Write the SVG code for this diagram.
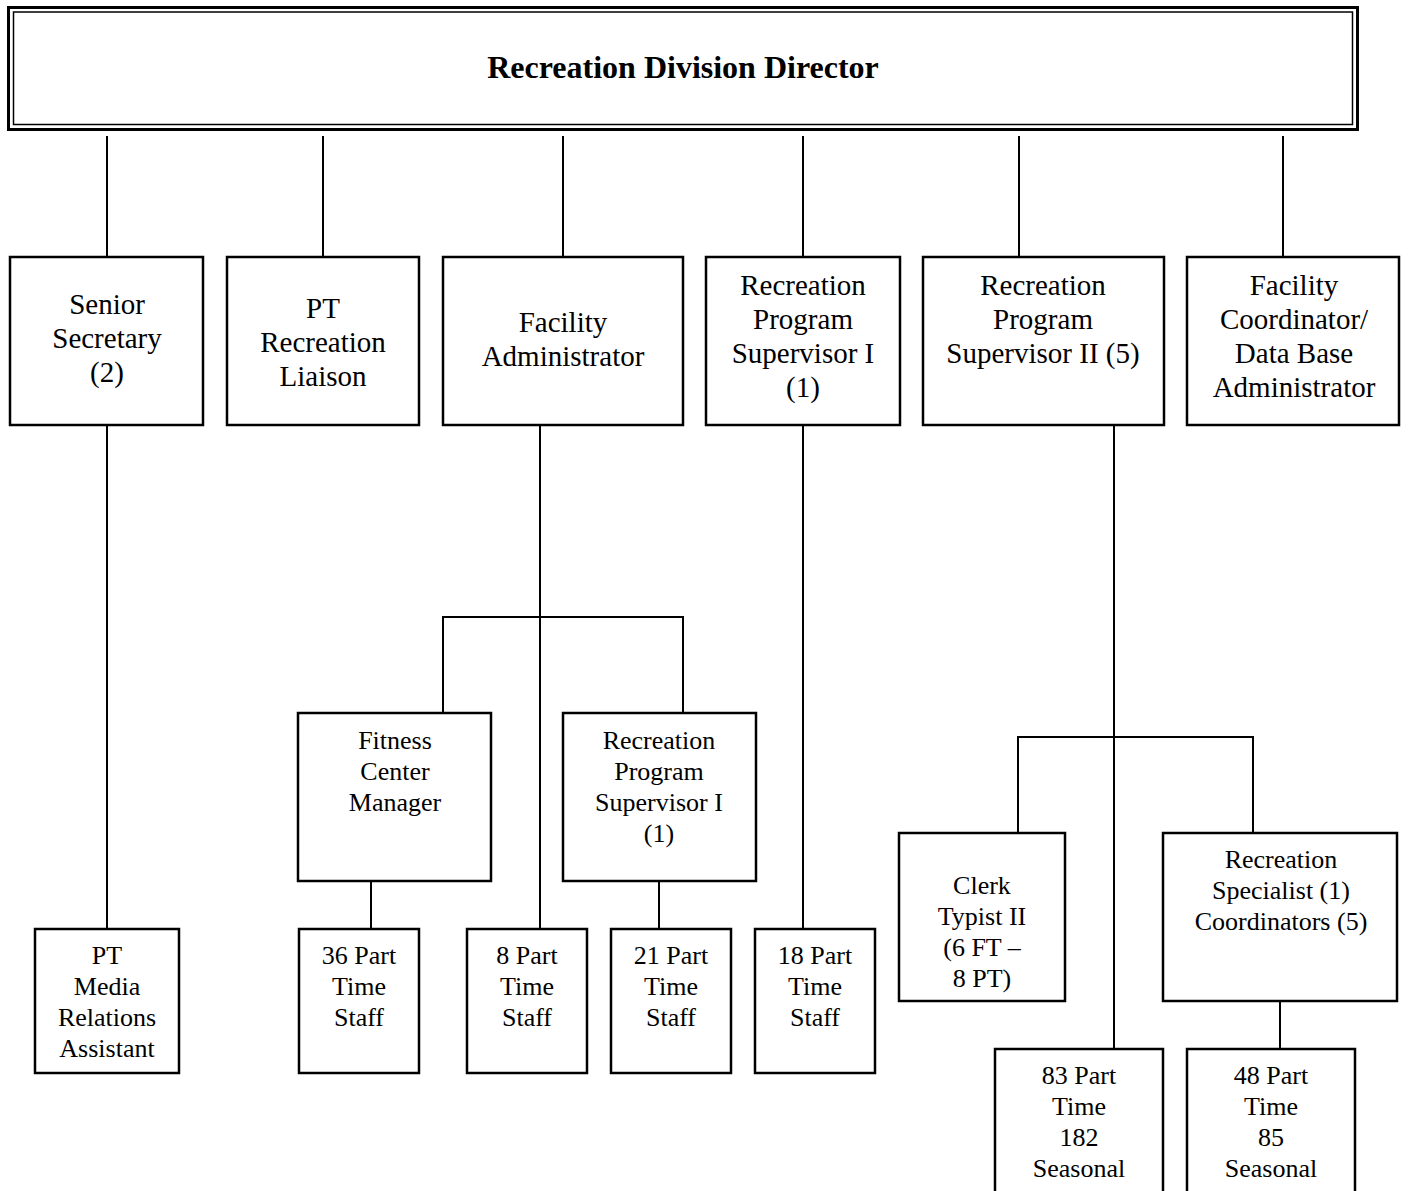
<svg xmlns="http://www.w3.org/2000/svg" width="1410" height="1191" viewBox="0 0 1410 1191">
<style>
.box{fill:#fff;stroke:#000;stroke-width:2.5}
.ln{stroke:#000;stroke-width:2;fill:none}
.t1{font-family:"Liberation Serif","Times New Roman",serif;font-size:29px;text-anchor:middle;fill:#000}
.t2{font-family:"Liberation Serif","Times New Roman",serif;font-size:26px;text-anchor:middle;fill:#000}
.tb{font-family:"Liberation Serif","Times New Roman",serif;font-size:32px;font-weight:bold;text-anchor:middle;fill:#000}
</style>
<rect width="1410" height="1191" fill="#fff"/>
<g id="connectors">
<path class="ln" d="M107 136V257M323 136V257M563 136V257M803 136V257M1019 136V257M1283 136V257"/>
<path class="ln" d="M107 425V929"/>
<path class="ln" d="M540 425V929M443 713V617H683V713"/>
<path class="ln" d="M371 881V929M659 881V929"/>
<path class="ln" d="M803 425V929"/>
<path class="ln" d="M1114 425V1049M1018 833V737H1253V833"/>
<path class="ln" d="M1280 1001V1049"/>
</g>
<g id="director">
<rect x="8.5" y="7.5" width="1349" height="122" fill="#fff" stroke="#000" stroke-width="3"/>
<rect x="13.5" y="12" width="1339" height="112.5" fill="none" stroke="#000" stroke-width="1.5"/>
<text class="tb" x="683" y="78">Recreation Division Director</text>
</g>
<g id="senior-secretary">
<rect class="box" x="10" y="257" width="193" height="168"/>
<text class="t1" x="107" y="314">Senior</text>
<text class="t1" x="107" y="348">Secretary</text>
<text class="t1" x="107" y="382">(2)</text>
</g>
<g id="pt-liaison">
<rect class="box" x="227" y="257" width="192" height="168"/>
<text class="t1" x="323" y="318">PT</text>
<text class="t1" x="323" y="352">Recreation</text>
<text class="t1" x="323" y="386">Liaison</text>
</g>
<g id="facility-admin">
<rect class="box" x="443" y="257" width="240" height="168"/>
<text class="t1" x="563" y="332">Facility</text>
<text class="t1" x="563" y="366">Administrator</text>
</g>
<g id="rps1-top">
<rect class="box" x="706" y="257" width="194" height="168"/>
<text class="t1" x="803" y="295">Recreation</text>
<text class="t1" x="803" y="329">Program</text>
<text class="t1" x="803" y="363">Supervisor I</text>
<text class="t1" x="803" y="397">(1)</text>
</g>
<g id="rps2">
<rect class="box" x="923" y="257" width="241" height="168"/>
<text class="t1" x="1043" y="295">Recreation</text>
<text class="t1" x="1043" y="329">Program</text>
<text class="t1" x="1043" y="363">Supervisor II (5)</text>
</g>
<g id="facility-coordinator">
<rect class="box" x="1187" y="257" width="212" height="168"/>
<text class="t1" x="1294" y="295">Facility</text>
<text class="t1" x="1294" y="329">Coordinator/</text>
<text class="t1" x="1294" y="363">Data Base</text>
<text class="t1" x="1294" y="397">Administrator</text>
</g>
<g id="fitness-manager">
<rect class="box" x="298" y="713" width="193" height="168"/>
<text class="t2" x="395" y="749">Fitness</text>
<text class="t2" x="395" y="780">Center</text>
<text class="t2" x="395" y="811">Manager</text>
</g>
<g id="rps1-lower">
<rect class="box" x="563" y="713" width="193" height="168"/>
<text class="t2" x="659" y="749">Recreation</text>
<text class="t2" x="659" y="780">Program</text>
<text class="t2" x="659" y="811">Supervisor I</text>
<text class="t2" x="659" y="842">(1)</text>
</g>
<g id="clerk-typist">
<rect class="box" x="899" y="833" width="166" height="168"/>
<text class="t2" x="982" y="894">Clerk</text>
<text class="t2" x="982" y="925">Typist II</text>
<text class="t2" x="982" y="956">(6 FT –</text>
<text class="t2" x="982" y="987">8 PT)</text>
</g>
<g id="rec-specialist">
<rect class="box" x="1163" y="833" width="234" height="168"/>
<text class="t2" x="1281" y="868">Recreation</text>
<text class="t2" x="1281" y="899">Specialist (1)</text>
<text class="t2" x="1281" y="930">Coordinators (5)</text>
</g>
<g id="pt-media">
<rect class="box" x="35" y="929" width="144" height="144"/>
<text class="t2" x="107" y="964">PT</text>
<text class="t2" x="107" y="995">Media</text>
<text class="t2" x="107" y="1026">Relations</text>
<text class="t2" x="107" y="1057">Assistant</text>
</g>
<g id="staff-36">
<rect class="box" x="299" y="929" width="120" height="144"/>
<text class="t2" x="359" y="964">36 Part</text>
<text class="t2" x="359" y="995">Time</text>
<text class="t2" x="359" y="1026">Staff</text>
</g>
<g id="staff-8">
<rect class="box" x="467" y="929" width="120" height="144"/>
<text class="t2" x="527" y="964">8 Part</text>
<text class="t2" x="527" y="995">Time</text>
<text class="t2" x="527" y="1026">Staff</text>
</g>
<g id="staff-21">
<rect class="box" x="611" y="929" width="120" height="144"/>
<text class="t2" x="671" y="964">21 Part</text>
<text class="t2" x="671" y="995">Time</text>
<text class="t2" x="671" y="1026">Staff</text>
</g>
<g id="staff-18">
<rect class="box" x="755" y="929" width="120" height="144"/>
<text class="t2" x="815" y="964">18 Part</text>
<text class="t2" x="815" y="995">Time</text>
<text class="t2" x="815" y="1026">Staff</text>
</g>
<g id="staff-83">
<rect class="box" x="995" y="1049" width="168" height="160"/>
<text class="t2" x="1079" y="1084">83 Part</text>
<text class="t2" x="1079" y="1115">Time</text>
<text class="t2" x="1079" y="1146">182</text>
<text class="t2" x="1079" y="1177">Seasonal</text>
</g>
<g id="staff-48">
<rect class="box" x="1187" y="1049" width="168" height="160"/>
<text class="t2" x="1271" y="1084">48 Part</text>
<text class="t2" x="1271" y="1115">Time</text>
<text class="t2" x="1271" y="1146">85</text>
<text class="t2" x="1271" y="1177">Seasonal</text>
</g>
</svg>
